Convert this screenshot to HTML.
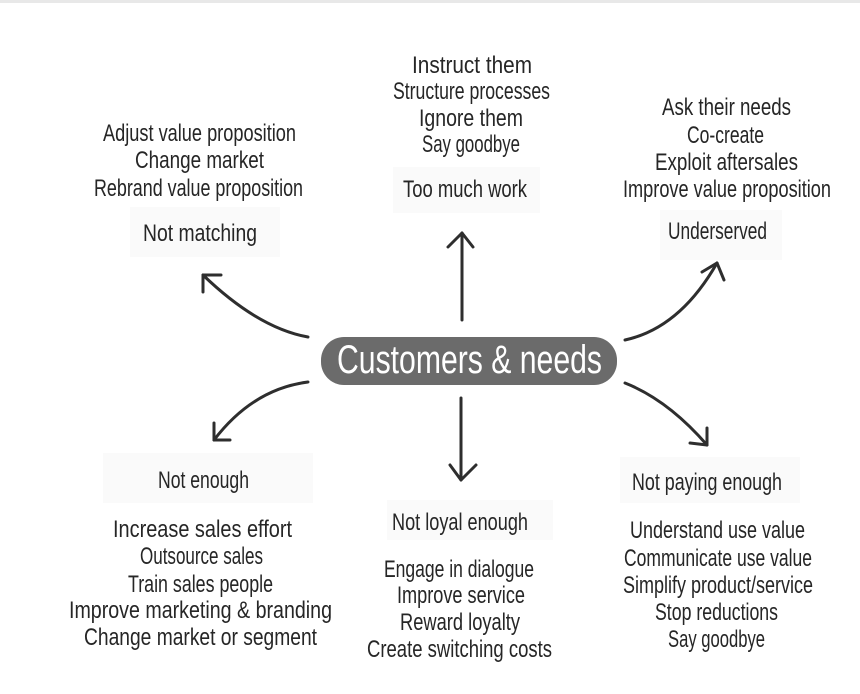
<!DOCTYPE html>
<html>
<head>
<meta charset="utf-8">
<style>
  html, body { margin:0; padding:0; background:#ffffff; }
  body { width:860px; height:694px; overflow:hidden; }
  svg { display:block; }
  text { font-family: "Liberation Sans Narrow", "Liberation Sans", sans-serif; fill:#262626; font-size:24px; }
</style>
</head>
<body>
<svg width="860" height="694" viewBox="0 0 860 694" xmlns="http://www.w3.org/2000/svg">
  <rect x="0" y="0" width="860" height="694" fill="#ffffff"/>
  <rect x="0" y="0" width="860" height="3" fill="#e8e8e8"/>

  <!-- faint label backgrounds -->
  <g fill="#fafafa">
    <rect x="130" y="207" width="150" height="50"/>
    <rect x="393" y="167" width="147" height="46"/>
    <rect x="660" y="210" width="122" height="50"/>
    <rect x="103" y="453" width="210" height="50"/>
    <rect x="387" y="500" width="166" height="40"/>
    <rect x="620" y="457" width="180" height="46"/>
  </g>

  <!-- centre node -->
  <rect x="321" y="337" width="296" height="48" rx="23" ry="23" fill="#6b6b6b"/>
  <text x="337" y="373" textLength="265" lengthAdjust="spacingAndGlyphs" style="font-size:40px;fill:#ffffff;">Customers &amp; needs</text>

  <!-- arrows -->
  <g fill="none" stroke="#2e2e2e" stroke-width="3" stroke-linecap="round" stroke-linejoin="round">
    <path d="M308,337 Q258,328 203,275"/>
    <path d="M221,275 L203,275 L203,292"/>
    <path d="M308,382 Q253,389 214,440"/>
    <path d="M214,423 L214,440 L230,440"/>
    <path d="M625,340 Q680,328 717,263"/>
    <path d="M702,272 L717,263 L724,280"/>
    <path d="M625,383 Q668,400 707,445"/>
    <path d="M707,428 L707,445 L690,443"/>
    <path d="M462,320 L462,233"/>
    <path d="M448,247 L462,233 L473,247"/>
    <path d="M461,398 L461,480"/>
    <path d="M450,465 L461,480 L476,465"/>
  </g>

  <!-- top-left -->
  <text x="103" y="141" textLength="193" lengthAdjust="spacingAndGlyphs">Adjust value proposition</text>
  <text x="135" y="168" textLength="129" lengthAdjust="spacingAndGlyphs">Change market</text>
  <text x="94" y="196" textLength="209" lengthAdjust="spacingAndGlyphs">Rebrand value proposition</text>
  <text x="143" y="241" textLength="114" lengthAdjust="spacingAndGlyphs">Not matching</text>

  <!-- top-centre -->
  <text x="412" y="73" textLength="120" lengthAdjust="spacingAndGlyphs">Instruct them</text>
  <text x="393" y="99" textLength="157" lengthAdjust="spacingAndGlyphs">Structure processes</text>
  <text x="419" y="126" textLength="104" lengthAdjust="spacingAndGlyphs">Ignore them</text>
  <text x="422" y="152" textLength="98" lengthAdjust="spacingAndGlyphs">Say goodbye</text>
  <text x="403" y="197" textLength="124" lengthAdjust="spacingAndGlyphs">Too much work</text>

  <!-- top-right -->
  <text x="662" y="115" textLength="129" lengthAdjust="spacingAndGlyphs">Ask their needs</text>
  <text x="687" y="143" textLength="77" lengthAdjust="spacingAndGlyphs">Co-create</text>
  <text x="655" y="170" textLength="143" lengthAdjust="spacingAndGlyphs">Exploit aftersales</text>
  <text x="623" y="197" textLength="208" lengthAdjust="spacingAndGlyphs">Improve value proposition</text>
  <text x="668" y="239" textLength="99" lengthAdjust="spacingAndGlyphs">Underserved</text>

  <!-- bottom-left -->
  <text x="158" y="488" textLength="91" lengthAdjust="spacingAndGlyphs">Not enough</text>
  <text x="113" y="537" textLength="179" lengthAdjust="spacingAndGlyphs">Increase sales effort</text>
  <text x="140" y="564" textLength="123" lengthAdjust="spacingAndGlyphs">Outsource sales</text>
  <text x="128" y="592" textLength="145" lengthAdjust="spacingAndGlyphs">Train sales people</text>
  <text x="69" y="618" textLength="263" lengthAdjust="spacingAndGlyphs">Improve marketing &amp; branding</text>
  <text x="84" y="645" textLength="233" lengthAdjust="spacingAndGlyphs">Change market or segment</text>

  <!-- bottom-centre -->
  <text x="392" y="530" textLength="136" lengthAdjust="spacingAndGlyphs">Not loyal enough</text>
  <text x="384" y="577" textLength="150" lengthAdjust="spacingAndGlyphs">Engage in dialogue</text>
  <text x="397" y="603" textLength="128" lengthAdjust="spacingAndGlyphs">Improve service</text>
  <text x="400" y="630" textLength="120" lengthAdjust="spacingAndGlyphs">Reward loyalty</text>
  <text x="367" y="657" textLength="185" lengthAdjust="spacingAndGlyphs">Create switching costs</text>

  <!-- bottom-right -->
  <text x="632" y="490" textLength="150" lengthAdjust="spacingAndGlyphs">Not paying enough</text>
  <text x="630" y="538" textLength="175" lengthAdjust="spacingAndGlyphs">Understand use value</text>
  <text x="624" y="566" textLength="188" lengthAdjust="spacingAndGlyphs">Communicate use value</text>
  <text x="623" y="593" textLength="190" lengthAdjust="spacingAndGlyphs">Simplify product/service</text>
  <text x="655" y="620" textLength="123" lengthAdjust="spacingAndGlyphs">Stop reductions</text>
  <text x="668" y="647" textLength="97" lengthAdjust="spacingAndGlyphs">Say goodbye</text>
</svg>
</body>
</html>
